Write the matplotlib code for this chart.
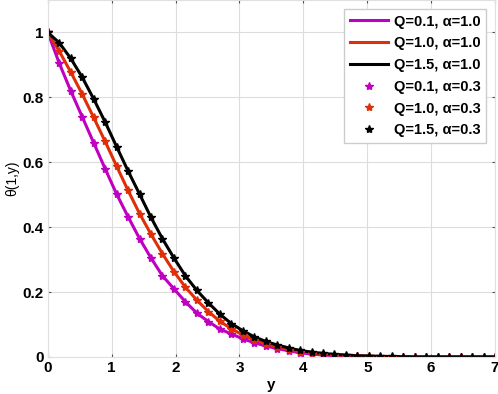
import matplotlib
matplotlib.use("Agg")
import matplotlib.pyplot as plt
import numpy as np

# sample points along y (40 points from 0 to 7)
y_vals = np.linspace(0, 7, 40)

theta_q01 = [1.0, 0.905, 0.82, 0.74, 0.66, 0.58, 0.502, 0.432, 0.365, 0.305,
             0.25, 0.21, 0.17, 0.135, 0.109, 0.086, 0.071, 0.056, 0.044, 0.034,
             0.026, 0.019, 0.013, 0.009, 0.006, 0.004, 0.003, 0.002, 0.001, 0.0,
             0.0, 0.0, 0.0, 0.0, 0.0, 0.0, 0.0, 0.0, 0.0, 0.0]
theta_q10 = [1.0, 0.942, 0.878, 0.81, 0.738, 0.664, 0.588, 0.513, 0.442, 0.378,
             0.318, 0.263, 0.215, 0.175, 0.14, 0.11, 0.087, 0.068, 0.053, 0.041,
             0.031, 0.023, 0.016, 0.012, 0.008, 0.006, 0.004, 0.003, 0.002, 0.001,
             0.0, 0.0, 0.0, 0.0, 0.0, 0.0, 0.0, 0.0, 0.0, 0.0]
theta_q15 = [1.0, 0.968, 0.92, 0.862, 0.795, 0.724, 0.648, 0.573, 0.502, 0.43,
             0.364, 0.305, 0.25, 0.205, 0.167, 0.132, 0.103, 0.081, 0.062, 0.048,
             0.037, 0.028, 0.02, 0.015, 0.011, 0.008, 0.006, 0.004, 0.003, 0.002,
             0.0015, 0.001, 0.0, 0.0, 0.0, 0.0, 0.0, 0.0, 0.0, 0.0]

line_labels = ["Q=0.1, α=1.0", "Q=1.0, α=1.0", "Q=1.5, α=1.0"]
star_labels = ["Q=0.1, α=0.3", "Q=1.0, α=0.3", "Q=1.5, α=0.3"]
colors = ["#C000C0", "#E02F08", "black"]

plt.rcParams['font.family'] = ['Liberation Sans', 'DejaVu Sans']

fig = plt.figure(figsize=(4.98, 3.94), dpi=100)
ax = fig.add_axes([0.096, 0.094, 0.898, 0.906])

series = [theta_q01, theta_q10, theta_q15]
for vals, c, lab in zip(series, colors, line_labels):
    ax.plot(y_vals, vals, color=c, lw=2.2, label=lab)
for vals, c, lab in zip(series, colors, star_labels):
    ax.plot(y_vals, vals, '*', color=c, ms=6, label=lab)

ax.set_xlim(0, 7)
ax.set_ylim(0, 1.1)
ax.set_xticks(range(8))
ax.set_yticks([0, 0.2, 0.4, 0.6, 0.8, 1])
ax.set_yticklabels(["0", "0.2", "0.4", "0.6", "0.8", "1"])
ax.grid(True, color="#dddddd", lw=0.8)
ax.tick_params(direction='in', length=2, top=True, right=True,
               labelsize=11, color="#555555", pad=3)
for lab in ax.get_xticklabels() + ax.get_yticklabels():
    lab.set_fontweight('bold')
for s in ax.spines.values():
    s.set_color("#e0e0e0")

ax.set_xlabel("y", fontsize=11, fontweight='bold', labelpad=2)
ax.set_ylabel("θ(1,y)", fontsize=10, labelpad=2)

leg = ax.legend(loc='upper right', prop={'weight': 'bold', 'size': 10.5},
                fancybox=False, edgecolor="#cccccc", framealpha=1,
                handlelength=2.6, borderaxespad=0.6, labelspacing=0.53,
                handletextpad=0.4)

fig.savefig("out.png", dpi=100)
